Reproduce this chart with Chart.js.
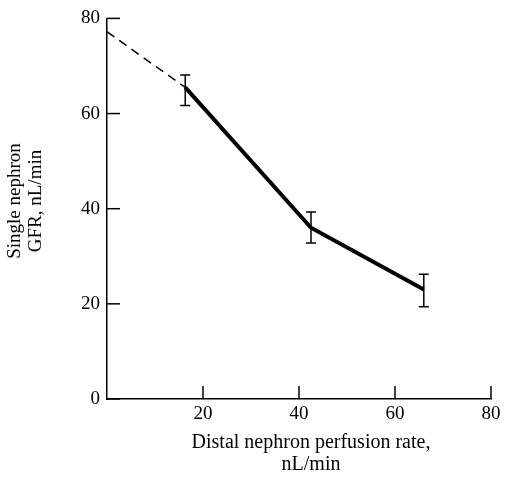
<!DOCTYPE html>
<html>
<head>
<meta charset="utf-8">
<script src="https://cdn.jsdelivr.net/npm/chart.js@4"></script>
<style>
  body { margin: 0; background: #fff; }
  #wrap { width: 509px; height: 478px; }
</style>
</head>
<body>
<div id="wrap"><canvas id="chart" width="509" height="478"></canvas></div>
<script>
// data
const perfusionRate = [16.3, 42.5, 66];
const snGFR = [65.5, 36, 23];
const errHigh = [68.1, 39.3, 26.2];
const errLow = [61.7, 32.8, 19.4];
// dashed extrapolation back to the y axis
const extrapRate = [0, 16.3];
const extrapGFR = [77.2, 65.5];
const xTicks = [20, 40, 60, 80];
const yTicks = [0, 20, 40, 60, 80];
const xTitle = ["Distal nephron perfusion rate,", "nL/min"];
const yTitle = ["Single nephron", "GFR, nL/min"];

const FONT = "'Liberation Serif', 'Times New Roman', serif";

function toPoints(xs, ys) {
  return xs.map(function (x, i) { return { x: x, y: ys[i] }; });
}

// inward tick marks, error bars and axis titles
var extras = {
  id: "extras",
  afterDatasetsDraw: function (chart) {
    var ctx = chart.ctx;
    var xs = chart.scales.x, ys = chart.scales.y;
    var area = chart.chartArea;
    ctx.save();
    ctx.strokeStyle = "#000";
    ctx.lineWidth = 1.5;
    // ticks
    xTicks.forEach(function (v) {
      var px = xs.getPixelForValue(v);
      ctx.beginPath();
      ctx.moveTo(px, area.bottom);
      ctx.lineTo(px, area.bottom - 13);
      ctx.stroke();
    });
    yTicks.forEach(function (v) {
      var py = ys.getPixelForValue(v);
      ctx.beginPath();
      ctx.moveTo(area.left, py);
      ctx.lineTo(area.left + 13, py);
      ctx.stroke();
    });
    // error bars
    perfusionRate.forEach(function (x, i) {
      var px = xs.getPixelForValue(x);
      var top = ys.getPixelForValue(errHigh[i]);
      var bot = ys.getPixelForValue(errLow[i]);
      ctx.beginPath();
      ctx.moveTo(px, top);
      ctx.lineTo(px, bot);
      ctx.moveTo(px - 5, top);
      ctx.lineTo(px + 5, top);
      ctx.moveTo(px - 5, bot);
      ctx.lineTo(px + 5, bot);
      ctx.stroke();
    });
    // titles
    ctx.fillStyle = "#000";
    ctx.font = "20px " + FONT;
    ctx.textAlign = "center";
    ctx.textBaseline = "alphabetic";
    ctx.fillText(xTitle[0], 311, 448);
    ctx.fillText(xTitle[1], 311, 470);
    ctx.font = "19px " + FONT;
    [20, 41].forEach(function (bx, i) {
      ctx.save();
      ctx.translate(bx, 201);
      ctx.rotate(-Math.PI / 2);
      ctx.fillText(yTitle[i], 0, 0);
      ctx.restore();
    });
    ctx.restore();
  },
};

document.addEventListener("DOMContentLoaded", function () {
  var ctx = document.getElementById("chart").getContext("2d");

  new Chart(ctx, {
    type: "scatter",
    data: {
      datasets: [
        {
          label: "SNGFR",
          data: toPoints(perfusionRate, snGFR),
          showLine: true,
          borderColor: "#000",
          borderWidth: 4,
          pointRadius: 0,
          fill: false,
        },
        {
          label: "extrapolated",
          data: toPoints(extrapRate, extrapGFR),
          showLine: true,
          borderColor: "#000",
          borderWidth: 1.5,
          borderDash: [9, 6],
          pointRadius: 0,
          fill: false,
        },
      ],
    },
    plugins: [extras],
    options: {
      responsive: false,
      animation: false,
      layout: {
        padding: { top: 13, right: 18, left: 0, bottom: 0 },
      },
      plugins: {
        legend: { display: false },
        tooltip: { enabled: false },
      },
      scales: {
        x: {
          type: "linear",
          min: 0,
          max: 80,
          afterFit: function (scale) {
            scale.height = 79;
          },
          afterBuildTicks: function (scale) {
            scale.ticks = xTicks.map(function (v) { return { value: v }; });
          },
          border: { display: true, color: "#000", width: 1.5 },
          grid: { drawOnChartArea: false, drawTicks: false },
          ticks: {
            color: "#000",
            padding: 4,
            font: { family: FONT, size: 19 },
          },
        },
        y: {
          type: "linear",
          min: 0,
          max: 80,
          afterFit: function (scale) {
            scale.width = 107;
          },
          afterBuildTicks: function (scale) {
            scale.ticks = yTicks.map(function (v) { return { value: v }; });
          },
          border: { display: true, color: "#000", width: 1.5 },
          grid: { drawOnChartArea: false, drawTicks: false },
          ticks: {
            color: "#000",
            padding: 7,
            font: { family: FONT, size: 19 },
          },
        },
      },
    },
  });
});
</script>
</body>
</html>
